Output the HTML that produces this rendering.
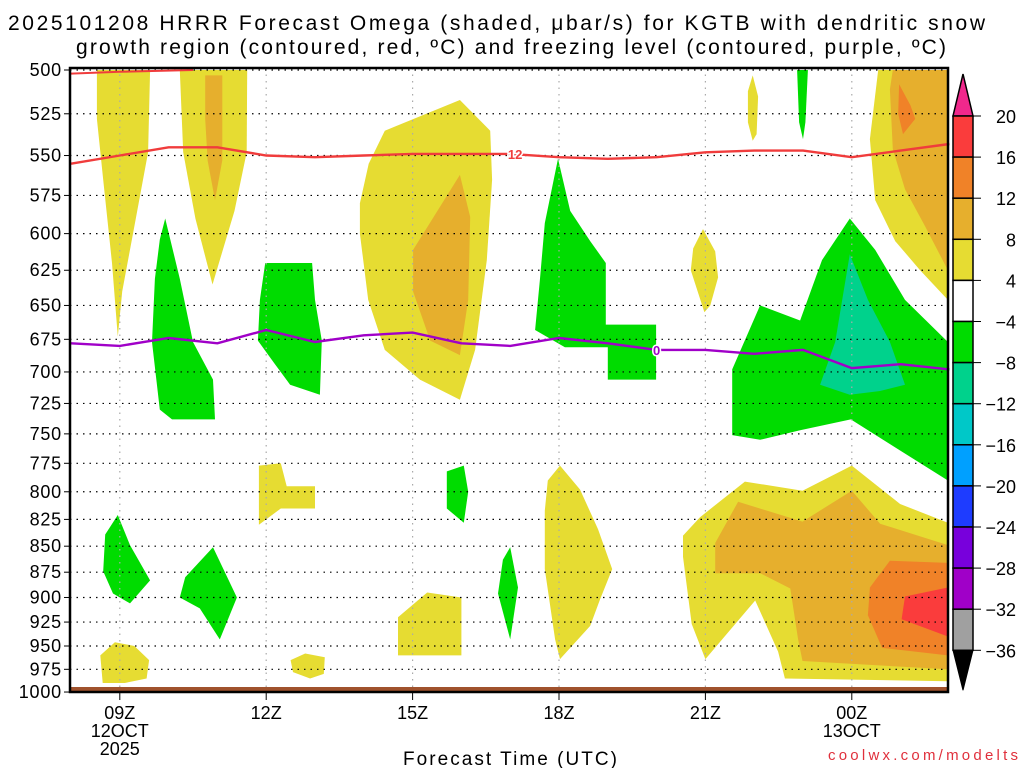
<!DOCTYPE html>
<html><head><meta charset="utf-8"><style>
html,body{margin:0;padding:0;background:#fff;}
svg{display:block;font-family:"Liberation Sans",sans-serif;}
</style></head><body>
<svg id="c" width="1024" height="768" viewBox="0 0 1024 768">
<text x="8" y="30" font-size="21" textLength="977" lengthAdjust="spacing">2025101208 HRRR Forecast Omega (shaded, μbar/s) for KGTB with dendritic snow</text>
<text x="76" y="54" font-size="21" textLength="870" lengthAdjust="spacing">growth region (contoured, red, ºC) and freezing level (contoured, purple, ºC)</text>
<g id="shade"></g>
<g id="grid"></g>
<g id="lines"></g>
<g id="axes"></g>
<g id="cbar"></g>
<text x="403" y="765" font-size="19" textLength="214" lengthAdjust="spacing">Forecast Time (UTC)</text>
<text x="828" y="760" font-size="15" fill="#e0303c" textLength="190" lengthAdjust="spacing">coolwx.com/modelts</text>
</svg>
<script>
const pLevels=[500,525,550,575,600,625,650,675,700,725,750,775,800,825,850,875,900,925,950,975,1000];
const xTickHours=[1,4,7,10,13,16];
const xTickLabels=["09Z","12Z","15Z","18Z","21Z","00Z"];
const xSubLabels=[["12OCT","2025"],[],[],[],[],["13OCT"]];
const cbLevels=[20,16,12,8,4,-4,-8,-12,-16,-20,-24,-28,-32,-36];
const cbColors=["#fa3c3c","#f08228","#e6af2d","#e6dc32","#ffffff","#00dc00","#00d28c","#00c8c8","#00a0ff","#1e3cff","#7800dc","#a000c8","#a0a0a0"];
// shaded regions: [hour since 08Z, pressure]
const yellowRegions=[
 [[0.53,500],[1.62,500],[1.58,548],[1.3,595],[1.05,640],[0.96,673],[0.84,620],[0.66,565],[0.53,528]],
 [[2.23,500],[3.61,500],[3.6,548],[3.35,585],[2.9,635],[2.55,590],[2.3,548]],
 [[5.92,580],[6.1,555],[6.43,535],[7.97,517],[8.59,535],[8.63,565],[8.52,618],[8.28,683],[7.97,722],[7.15,706],[6.43,683],[6.09,646],[5.92,600]],
 [[13.87,512],[13.97,503],[14.08,515],[14.05,537],[13.97,541],[13.87,530]],
 [[12.95,597],[13.2,612],[13.26,630],[13.1,650],[12.98,655],[12.7,625],[12.75,610]],
 [[16.54,500],[17.97,500],[17.97,646],[17.4,625],[16.89,605],[16.48,578],[16.37,540]],
 [[3.85,777],[4.3,775],[4.42,795],[5.0,795],[5.0,815],[4.3,815],[3.85,830]],
 [[0.6,960],[0.9,946],[1.3,950],[1.6,965],[1.55,985],[1.1,990],[0.65,990]],
 [[4.5,965],[4.8,958],[5.2,962],[5.18,980],[4.9,985],[4.55,978]],
 [[6.7,920],[7.3,895],[8.0,900],[8.0,960],[6.7,960]],
 [[9.77,790],[10.02,777],[10.43,798],[10.8,834],[11.09,872],[10.84,902],[10.64,929],[10.02,964],[9.92,943],[9.71,872],[9.71,817]],
 [[12.54,840],[12.89,823],[13.81,791],[14.99,799],[16.0,777],[16.99,811],[17.97,828],[17.97,988],[14.63,985],[14.49,956],[14.02,903],[13.0,964],[12.72,927],[12.54,860]]
];
const orangeRegions=[
 [[2.75,503],[3.1,503],[3.1,553],[2.95,578],[2.8,553],[2.75,528]],
 [[7.01,611],[7.97,562],[8.18,589],[8.14,646],[7.97,687],[7.36,676],[7.01,640]],
 [[16.84,500],[17.97,500],[17.97,625],[17.5,595],[17.09,571],[16.84,546],[16.78,511]],
 [[13.2,847],[13.67,809],[14.99,827],[16.0,799],[16.58,829],[17.97,849],[17.97,975],[14.99,966],[14.9,943],[14.74,891],[14.12,876],[13.2,876]]
];
const darkOrangeRegions=[
 [[16.97,508],[17.2,520],[17.3,528],[17.05,537],[16.95,525]],
 [[17.97,866],[16.78,864],[16.37,890],[16.33,918],[16.62,952],[17.97,960]]
];
const redRegions=[
 [[17.97,890],[17.09,899],[17.02,922],[17.97,940]]
];
const greenRegions=[
 [[1.93,590],[2.23,631],[2.5,677],[2.91,706],[2.95,738],[2.07,738],[1.82,730],[1.66,677],[1.72,631],[1.82,604]],
 [[3.98,620],[4.94,620],[5.0,646],[5.14,676],[5.1,718],[4.49,710],[4.18,694],[3.83,676],[3.87,646]],
 [[9.98,552],[10.23,585],[10.64,605],[10.96,620],[10.96,664],[11.99,664],[11.99,706],[11.0,706],[11.0,681],[10.12,681],[9.51,668],[9.61,631],[9.71,593]],
 [[14.88,500],[15.1,500],[15.05,530],[15.0,540],[14.92,530]],
 [[13.55,698],[14.12,650],[14.94,661],[15.39,618],[15.96,590],[16.48,611],[17.09,646],[17.97,677],[17.97,790],[16.99,764],[15.98,738],[14.94,747],[14.12,755],[13.55,751]],
 [[7.7,782],[8.05,777],[8.14,800],[8.05,828],[7.7,815]],
 [[0.96,821],[1.21,849],[1.62,883],[1.21,906],[0.86,896],[0.66,874],[0.70,839]],
 [[2.91,851],[3.4,900],[3.05,943],[2.64,911],[2.23,900],[2.34,880]],
 [[9.0,851],[9.16,890],[9.0,943],[8.75,896],[8.85,863]]
];
const tealRegions=[
 [[15.96,614],[16.33,646],[16.78,677],[17.09,710],[16.58,715],[15.96,718],[15.35,710],[15.66,677]]
];
const lineHours=[0,1,2,3,4,5,6,7,8,9,10,11,12,13,14,15,16,17,18];
const dgzP=[555,550,545,545,550,551,550,549,549,549,551,552,551,548,547,547,551,547,543];
const frzP=[678,680,674,678,668,677,672,670,678,680,674,678,683,683,686,683,697,694,698];

const NS="http://www.w3.org/2000/svg";
const L=70,R=948,T=68,B=692;
function X(h){return 71+48.8*h;}
function Y(p){return 70+897.4*Math.log(p/500);}
function mk(tag,attrs,parent){const e=document.createElementNS(NS,tag);for(const k in attrs)e.setAttribute(k,attrs[k]);parent.appendChild(e);return e;}
const shade=document.getElementById('shade'),grid=document.getElementById('grid'),lines=document.getElementById('lines'),axes=document.getElementById('axes'),cbar=document.getElementById('cbar');
function drawRegions(arr,color,name){arr.forEach(r=>{const pts=r.map(q=>X(q[0]).toFixed(1)+','+Y(q[1]).toFixed(1)).join(' ');const e=mk('polygon',{points:pts,fill:color},shade);

});}
drawRegions(yellowRegions,"#e6dc32","omega-4-8");
drawRegions(orangeRegions,"#e6af2d","omega-8-12");
drawRegions(darkOrangeRegions,"#f08228","omega-12-16");
drawRegions(redRegions,"#fa3c3c","omega-16-20");
drawRegions(greenRegions,"#00dc00","omega-neg4-neg8");
drawRegions(tealRegions,"#00d28c","omega-neg8-neg12");
const gb=mk('rect',{x:L,y:687,width:R-L,height:6,fill:"#a0522d"},shade);


pLevels.forEach(p=>{const y=Y(p);const g=mk('line',{x1:L,x2:R,y1:y,y2:y,stroke:"#000","stroke-width":1.2,"stroke-dasharray":"1.5 5"},grid);


const t=mk('text',{x:62,y:y+6,"font-size":18,"text-anchor":"end","letter-spacing":"0.8"},axes);t.textContent=p;


mk('line',{x1:64,x2:L,y1:y,y2:y,stroke:"#000"},axes);});
xTickHours.forEach((h,i)=>{const x=X(h);const g=mk('line',{x1:x,x2:x,y1:T,y2:B,stroke:"#aaa","stroke-width":1.2,"stroke-dasharray":"1.5 5"},grid);


mk('line',{x1:x,x2:x,y1:B,y2:B+8,stroke:"#000"},axes);
const t=mk('text',{x:x,y:719,"font-size":18,"text-anchor":"middle"},axes);t.textContent=xTickLabels[i];


xSubLabels[i].forEach((s,j)=>{const u=mk('text',{x:x,y:737+18*j,"font-size":18,"text-anchor":"middle"},axes);u.textContent=s;

});});
function pl(arr,color,name){const pts=lineHours.map((h,i)=>X(h).toFixed(1)+','+Y(arr[i]).toFixed(1)).join(' ');const e=mk('polyline',{points:pts,fill:"none",stroke:color,"stroke-width":2.4},lines);

}
pl(dgzP,"#f03c3c","dgz-12c-contour");
pl(frzP,"#a000c8","freezing-level-contour");
const tl=mk('polyline',{points:X(0)+','+Y(502)+' '+X(1)+','+Y(501)+' '+X(2.5)+','+Y(500),fill:"none",stroke:"#f03c3c","stroke-width":2},lines);


const l12=mk('text',{x:X(9.1),y:Y(dgzP[9])+5,"font-size":13,"font-weight":"bold",fill:"#f03c3c","text-anchor":"middle",stroke:"#fff","stroke-width":3,"paint-order":"stroke"},lines);l12.textContent="12";


const l0=mk('text',{x:X(12),y:Y(frzP[12])+5,"font-size":13,"font-weight":"bold",fill:"#a000c8","text-anchor":"middle",stroke:"#fff","stroke-width":3,"paint-order":"stroke"},lines);l0.textContent="0";


const fr=mk('rect',{x:L,y:T,width:R-L,height:B-T,fill:"none",stroke:"#000","stroke-width":2.5},axes);


const cx=953,cw=20,cy0=116,cs=41.1;
const tri1=mk('polygon',{points:`${cx},${cy0} ${cx+cw},${cy0} ${cx+cw/2},${cy0-42}`,fill:"#f0288c",stroke:"#000","stroke-width":1.5},cbar);


cbColors.forEach((c,i)=>{const r=mk('rect',{x:cx,y:cy0+cs*i,width:cw,height:cs,fill:c,stroke:"#000","stroke-width":1.5},cbar);

});
const yEnd=cy0+cs*cbColors.length;
const tri2=mk('polygon',{points:`${cx},${yEnd} ${cx+cw},${yEnd} ${cx+cw/2},${yEnd+40}`,fill:"#000",stroke:"#000"},cbar);


cbLevels.forEach((v,i)=>{const y=cy0+cs*i;mk('line',{x1:cx+cw,x2:cx+cw+8,y1:y,y2:y,stroke:"#000"},cbar);
const t=mk('text',{x:1016,y:y+7,"font-size":18,"text-anchor":"end"},cbar);t.textContent=v<0?'\u2212'+(-v):v;

});
</script>
</body></html>
